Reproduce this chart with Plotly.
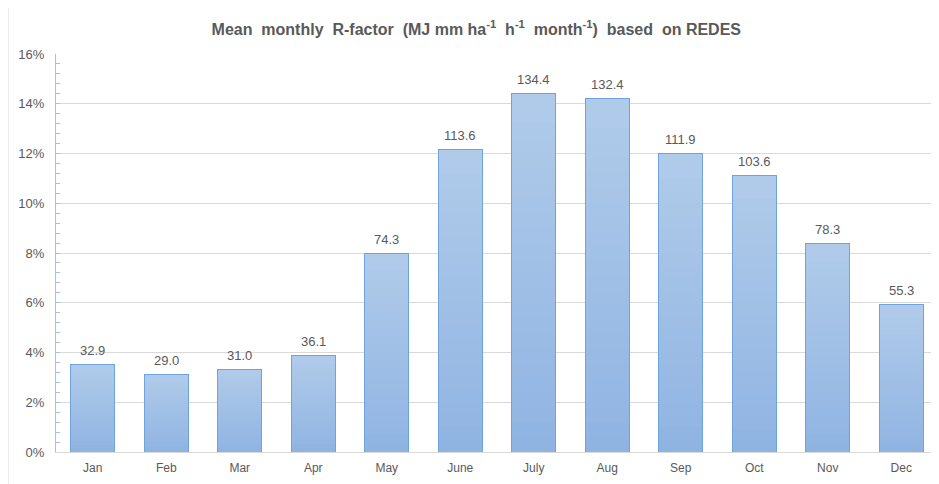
import plotly.graph_objects as go

months = ["Jan", "Feb", "Mar", "Apr", "May", "June", "July", "Aug", "Sep", "Oct", "Nov", "Dec"]
r_factor = [32.9, 29.0, 31.0, 36.1, 74.3, 113.6, 134.4, 132.4, 111.9, 103.6, 78.3, 55.3]

total = sum(r_factor)
share = [v / total for v in r_factor]
labels = [f"{v:.1f}" for v in r_factor]

grey = "#595959"
font_family = "Liberation Sans, Arial, sans-serif"
bottom_rgb = (0x8f, 0xb4, 0xe2)
top_rgb = (0xb1, 0xcb, 0xea)
n_seg = 24

fig = go.Figure()
# gradient fill: each bar drawn as a stack of thin segments, darker at the bottom
for i in range(n_seg):
    t = (i + 0.5) / n_seg
    c = tuple(round(b + (tp - b) * t) for b, tp in zip(bottom_rgb, top_rgb))
    fig.add_trace(go.Bar(
        x=months, y=[s / n_seg for s in share],
        marker=dict(color=f"rgb{c}", line=dict(width=0)),
        width=0.6, hoverinfo="skip",
    ))
# outline on an overlaid axis with identical scale
fig.add_trace(go.Bar(
    x=months, y=share,
    marker=dict(color="rgba(0,0,0,0)", line=dict(color="#6fa3dc", width=1)),
    width=0.6, hoverinfo="skip", yaxis="y2",
))
# data labels above the bars
for m, s, lab in zip(months, share, labels):
    fig.add_annotation(x=m, y=s, text=lab, showarrow=False, yanchor="middle",
                       yshift=14, font=dict(color=grey, size=13, family=font_family))

fig.update_layout(
    width=931, height=476,
    margin=dict(l=48, r=1, t=46, b=32),
    paper_bgcolor="white", plot_bgcolor="white",
    showlegend=False, barmode="stack",
    title=dict(
        text="<b>Mean  monthly  R-factor  (MJ mm ha<sup>-1</sup>  h<sup>-1</sup>  month<sup>-1</sup>)  based  on REDES</b>",
        x=0.503, xanchor="center", y=0.956, yanchor="middle",
        font=dict(family=font_family, size=16, color=grey),
    ),
    font=dict(family=font_family, color=grey),
    yaxis2=dict(overlaying="y", range=[0, 0.16], visible=False, fixedrange=True),
)
fig.update_xaxes(
    showgrid=False, showline=True, linecolor="#d9d9d9", linewidth=1,
    ticks="", tickfont=dict(size=12, color=grey), ticklabelstandoff=5,
    automargin=False,
)
fig.update_yaxes(
    selector=dict(overlaying=None),
    range=[0, 0.16], dtick=0.02, tickformat=".0%",
    showgrid=True, gridcolor="#d9d9d9", gridwidth=1,
    showline=True, linecolor="#9dc3e6", linewidth=1,
    ticks="inside", ticklen=4, tickcolor="#9dc3e6",
    minor=dict(dtick=0.004, ticks="inside", ticklen=4, tickcolor="#9dc3e6", showgrid=False),
    tickfont=dict(size=13, color=grey), ticklabelstandoff=8,
    zeroline=False, automargin=False,
)
fig.update_layout(yaxis2=dict(range=[0, 0.16], visible=False))
# light frame line at the chart's left edge
fig.add_shape(type="line", xref="paper", yref="paper", x0=-48 / 882, x1=-48 / 882,
              y0=-0.2, y1=1.3, line=dict(color="#d9d9d9", width=1))

fig.write_html("out.html")
